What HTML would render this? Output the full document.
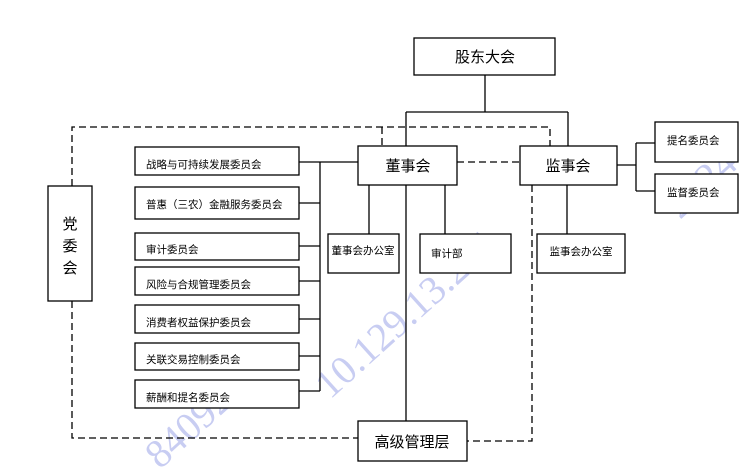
<!DOCTYPE html>
<html><head><meta charset="utf-8"><style>
body{margin:0;background:#fff;}
svg{display:block;}
text{font-family:"Liberation Sans","Noto Sans CJK SC",sans-serif;fill:#000;}
text.wm{font-family:"Liberation Serif",serif;fill:#c8cdf2;}
</style></head><body>
<svg width="743" height="471" viewBox="0 0 743 471" xmlns="http://www.w3.org/2000/svg">
<g font-size="40">
<text class="wm" transform="translate(160,470) rotate(-42)">84092</text>
<text class="wm" transform="translate(330,400) rotate(-42)">10.129.13.201</text>
<text class="wm" transform="translate(680,220) rotate(-42)">2024</text>
</g>
<g fill="none" stroke="#000" stroke-width="1.3">
<path d="M485 75V112M406 112H568M406 112V146M568 112V146"/>
<path d="M299 162H358M320 162V391M299 203H320M299 246H320M299 281H320M299 319H320M299 356H320M299 391H320"/>
<path d="M369 185V234M445 185V234M567 185V234M406 185V421"/>
<path d="M617 165H636M636 143V191M636 143H655M636 191H655"/>
<g stroke-dasharray="7,4">
<path d="M72 186V127H550V146M382 127V146"/>
<path d="M72 301V438H358"/>
<path d="M457 162H520"/>
<path d="M532 185V441H467"/>
</g>
</g>
<g fill="#fff" stroke="#000" stroke-width="1.3">
<rect x="414" y="38" width="141" height="37"/>
<rect x="358" y="146" width="99" height="39"/>
<rect x="520" y="146" width="97" height="39"/>
<rect x="48" y="186" width="44" height="115"/>
<rect x="358" y="421" width="109" height="40"/>
<rect x="135" y="147" width="164" height="28"/>
<rect x="135" y="187" width="164" height="32"/>
<rect x="135" y="233" width="164" height="27"/>
<rect x="135" y="267" width="164" height="28"/>
<rect x="135" y="305" width="164" height="28"/>
<rect x="135" y="343" width="164" height="27"/>
<rect x="135" y="380" width="164" height="28"/>
<rect x="328" y="234" width="71" height="39"/>
<rect x="420" y="234" width="91" height="39"/>
<rect x="537" y="234" width="88" height="39"/>
<rect x="655" y="122" width="83" height="40"/>
<rect x="655" y="174" width="83" height="39"/>
</g>
<g font-size="15">
<text x="485" y="62" text-anchor="middle">股东大会</text>
<text x="408" y="171" text-anchor="middle">董事会</text>
<text x="568" y="171" text-anchor="middle">监事会</text>
<text x="412" y="447" text-anchor="middle">高级管理层</text>
<text x="70" y="229" text-anchor="middle">党</text>
<text x="70" y="251" text-anchor="middle">委</text>
<text x="70" y="273" text-anchor="middle">会</text>
</g>
<g font-size="10.5">
<text x="146" y="168">战略与可持续发展委员会</text>
<text x="146" y="208">普惠（三农）金融服务委员会</text>
<text x="146" y="253">审计委员会</text>
<text x="146" y="288">风险与合规管理委员会</text>
<text x="146" y="326">消费者权益保护委员会</text>
<text x="146" y="363">关联交易控制委员会</text>
<text x="146" y="401">薪酬和提名委员会</text>
<text x="363" y="254" text-anchor="middle">董事会办公室</text>
<text x="431" y="257">审计部</text>
<text x="581" y="255" text-anchor="middle">监事会办公室</text>
<text x="667" y="144">提名委员会</text>
<text x="667" y="196">监督委员会</text>
</g>
</svg>
</body></html>
